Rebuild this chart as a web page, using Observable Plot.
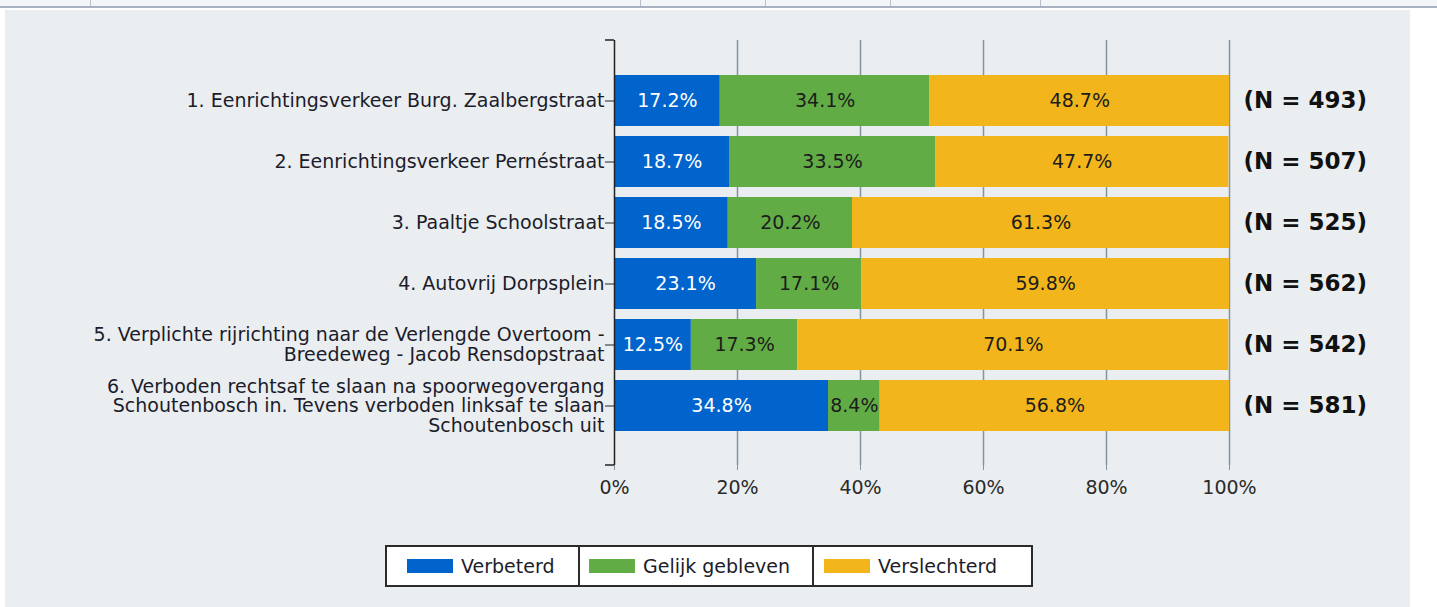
<!DOCTYPE html>
<html>
<head>
<meta charset="utf-8">
<script src="https://cdn.jsdelivr.net/npm/d3@7"></script>
<script src="https://cdn.jsdelivr.net/npm/@observablehq/plot@0.6"></script>
<style>
  html, body { margin: 0; padding: 0; background: #ffffff; width: 1437px; height: 607px; overflow: hidden; font-family: "DejaVu Sans", sans-serif; }
  #topstrip { position: absolute; left: 0; top: 0; width: 1437px; height: 6px; background: #f3f5f8; border-bottom: 2px solid #a9b0bf; }
  .sep { position: absolute; top: 0; width: 1px; height: 6px; background: #b8bfcc; }
  #panel { position: absolute; left: 5px; top: 10px; width: 1405px; height: 597px; background: #eaeef1; }
  #chart { position: absolute; left: 0; top: 0; }
  #legend { position: absolute; left: 385px; top: 545px; height: 38px; display: flex; border: 2px solid #2b2b2b; background: #ffffff; box-sizing: content-box; }
  .cell { height: 38px; display: flex; align-items: center; box-sizing: border-box; font-size: 19px; color: #1c1c2a; }
  .cell + .cell { border-left: 2px solid #2b2b2b; }
  .sw { width: 46px; height: 14px; margin-right: 8px; flex: none; }
</style>
</head>
<body>
<div id="topstrip"></div>
<div class="sep" style="left:90px"></div>
<div class="sep" style="left:640px"></div>
<div class="sep" style="left:765px"></div>
<div class="sep" style="left:890px"></div>
<div class="sep" style="left:1040px"></div>
<div id="panel"></div>
<div id="chart"></div>
<div id="legend"></div>
<script>
// ---- data ----
const categories = [
  "1. Eenrichtingsverkeer Burg. Zaalbergstraat",
  "2. Eenrichtingsverkeer Pernéstraat",
  "3. Paaltje Schoolstraat",
  "4. Autovrij Dorpsplein",
  "5. Verplichte rijrichting naar de Verlengde Overtoom -\nBreedeweg - Jacob Rensdopstraat",
  "6. Verboden rechtsaf te slaan na spoorwegovergang\nSchoutenbosch in. Tevens verboden linksaf te slaan\nSchoutenbosch uit"
];
const series = ["Verbeterd", "Gelijk gebleven", "Verslechterd"];
const verbeterd    = [17.2, 18.7, 18.5, 23.1, 12.5, 34.8];
const gelijk       = [34.1, 33.5, 20.2, 17.1, 17.3, 8.4];
const verslechterd = [48.7, 47.7, 61.3, 59.8, 70.1, 56.8];
const nValues      = [493, 507, 525, 562, 542, 581];
const xTicks       = [0, 20, 40, 60, 80, 100];

// ---- styles ----
const palette = {"Verbeterd": "#0064cc", "Gelijk gebleven": "#62ac46", "Verslechterd": "#f2b61c"};

const seriesValues = [verbeterd, gelijk, verslechterd];
const rows = [];
categories.forEach((c, i) => {
  series.forEach((s, j) => rows.push({category: c, series: s, value: seriesValues[j][i]}));
});

const W = 1437, H = 510, mt = 40, mb = 45, ml = 614, mr = 208;

const endTicks = (index, scales, values, dims) => {
  const p = d3.create("svg:path")
    .attr("d", `M${dims.marginLeft - 9},${dims.marginTop}H${dims.marginLeft}M${dims.marginLeft - 9},${dims.height - dims.marginBottom}H${dims.marginLeft}`)
    .attr("stroke", "#222").attr("stroke-width", 1.5).attr("fill", "none");
  return p.node();
};

const chart = Plot.plot({
  width: W, height: H,
  marginTop: mt, marginBottom: mb, marginLeft: ml, marginRight: mr,
  style: {fontFamily: "DejaVu Sans, sans-serif", fontSize: "19px", background: "transparent", color: "#1c1c2a", overflow: "visible"},
  x: {domain: [0, 100]},
  y: {domain: categories, range: [63.6, 441.4], padding: 0.17},
  color: {type: "identity"},
  marks: [
    Plot.ruleX(xTicks.slice(1), {stroke: "#8595a0", strokeWidth: 1.5}),
    Plot.barX(rows, Plot.stackX({y: "category", x: "value", fill: d => palette[d.series], order: series})),
    Plot.text(rows, Plot.stackX({
      y: "category", x: "value", order: series,
      text: d => d.value.toFixed(1) + "%",
      fill: d => d.series === "Verbeterd" ? "#ffffff" : "#1c1c1c",
      fontSize: 19
    })),
    Plot.text(categories, {
      y: d => d, x: 100, text: (d, i) => `(N = ${nValues[i]})`,
      dx: 14, textAnchor: "start", fontWeight: "bold", fontSize: 23, fill: "#111"
    }),
    Plot.axisX(xTicks, {tickFormat: d => d + "%", tickSize: 5, tickPadding: 10, stroke: "#8595a0", fill: "#2a2a2a", label: null, fontSize: 19}),
    Plot.axisY({tickSize: 9, tickPadding: 1, stroke: "#222", fill: "#1c1c2a", label: null, fontSize: 19, lineHeight: 1.04, textOverflow: null, lineWidth: Infinity}),
    Plot.ruleX([0], {stroke: "#222", strokeWidth: 1.5}),
    endTicks
  ]
});
document.getElementById("chart").appendChild(chart);

// ---- legend ----
const legendCells = [
  {w: 191, pad: 20},
  {w: 234, pad: 9},
  {w: 219, pad: 10}
];
const legend = document.getElementById("legend");
series.forEach((s, i) => {
  const cell = document.createElement("div");
  cell.className = "cell";
  cell.style.width = legendCells[i].w + "px";
  cell.style.paddingLeft = legendCells[i].pad + "px";
  const sw = document.createElement("span");
  sw.className = "sw";
  sw.style.background = palette[s];
  const t = document.createElement("span");
  t.textContent = s;
  cell.appendChild(sw);
  cell.appendChild(t);
  legend.appendChild(cell);
});
</script>
</body>
</html>
